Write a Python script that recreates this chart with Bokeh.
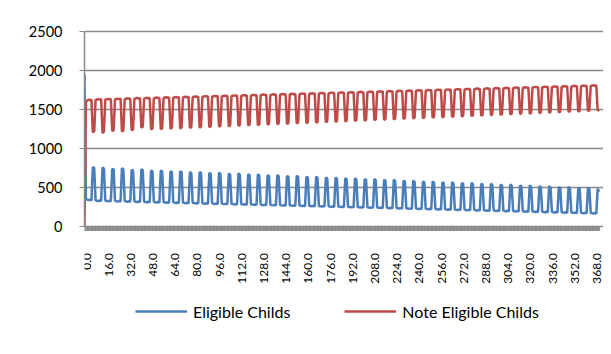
import math
from bokeh.plotting import figure
from bokeh.models import Range1d, FixedTicker
from bokeh.core.properties import value
from bokeh.embed import file_html
from bokeh.resources import INLINE

# Day index (categories 0.0 ... 371.0)
days = list(range(372))
x_tick_values = [0, 16, 32, 48, 64, 80, 96, 112, 128, 144, 160, 176, 192, 208, 224,
                 240, 256, 272, 288, 304, 320, 336, 352, 368]
x_tick_labels = ["0.0", "16.0", "32.0", "48.0", "64.0", "80.0", "96.0", "112.0", "128.0",
                 "144.0", "160.0", "176.0", "192.0", "208.0", "224.0", "240.0", "256.0",
                 "272.0", "288.0", "304.0", "320.0", "336.0", "352.0", "368.0"]
y_ticks = [0, 500, 1000, 1500, 2000, 2500]

eligible_childs = [1950,
    345, 338, 333, 336, 330, 758, 748,
    330, 325, 322, 327, 321, 752, 740,
    327, 322, 318, 324, 319, 735, 728,
    324, 319, 316, 321, 315, 744, 730,
    321, 316, 313, 318, 312, 722, 714,
    317, 312, 309, 314, 308, 730, 718,
    314, 309, 305, 311, 305, 712, 702,
    311, 306, 302, 308, 301, 715, 700,
    308, 303, 299, 305, 298, 702, 694,
    305, 300, 296, 302, 295, 705, 690,
    302, 297, 293, 299, 292, 692, 684,
    299, 294, 290, 296, 289, 694, 680,
    295, 290, 287, 292, 285, 682, 672,
    292, 287, 284, 289, 282, 686, 670,
    289, 284, 281, 286, 279, 672, 664,
    286, 281, 278, 283, 276, 676, 660,
    283, 278, 275, 280, 273, 662, 654,
    280, 275, 272, 277, 270, 664, 650,
    276, 271, 268, 274, 266, 652, 644,
    273, 268, 265, 271, 263, 655, 640,
    270, 265, 262, 268, 260, 642, 634,
    267, 262, 259, 265, 257, 646, 630,
    264, 259, 256, 262, 254, 631, 624,
    261, 256, 253, 259, 251, 634, 618,
    258, 253, 250, 256, 248, 621, 614,
    254, 249, 246, 252, 244, 624, 608,
    251, 246, 243, 249, 241, 611, 604,
    248, 243, 240, 246, 238, 614, 598,
    245, 240, 237, 243, 235, 601, 594,
    242, 237, 234, 240, 232, 604, 588,
    239, 234, 231, 237, 229, 591, 584,
    236, 231, 228, 234, 226, 594, 578,
    232, 227, 224, 230, 222, 581, 574,
    229, 224, 221, 227, 219, 584, 568,
    226, 221, 218, 224, 216, 571, 564,
    223, 218, 215, 221, 213, 574, 558,
    220, 215, 212, 218, 210, 561, 554,
    217, 212, 209, 215, 207, 564, 548,
    213, 208, 205, 211, 203, 551, 544,
    210, 205, 202, 208, 200, 554, 538,
    207, 202, 199, 205, 197, 540, 533,
    204, 199, 196, 202, 194, 543, 527,
    201, 196, 193, 199, 191, 530, 523,
    198, 193, 190, 196, 188, 533, 517,
    195, 190, 187, 193, 185, 520, 513,
    191, 186, 183, 189, 181, 523, 507,
    188, 183, 180, 186, 178, 510, 503,
    185, 180, 177, 183, 175, 513, 497,
    182, 177, 174, 180, 172, 500, 493,
    179, 174, 171, 177, 169, 503, 487,
    176, 171, 168, 174, 166, 490, 483,
    173, 168, 165, 171, 163, 493, 477,
    169, 164, 161, 167, 159, 480, 440]

note_eligible_childs = [0,
    1590, 1615, 1622, 1618, 1625, 1205, 1215,
    1620, 1626, 1630, 1624, 1628, 1196, 1210,
    1624, 1630, 1634, 1628, 1632, 1222, 1230,
    1627, 1633, 1637, 1631, 1635, 1215, 1228,
    1631, 1637, 1641, 1635, 1639, 1230, 1240,
    1635, 1641, 1645, 1639, 1643, 1262, 1275,
    1638, 1644, 1648, 1642, 1646, 1240, 1250,
    1641, 1647, 1651, 1645, 1649, 1245, 1255,
    1645, 1651, 1655, 1649, 1653, 1250, 1262,
    1648, 1654, 1658, 1652, 1656, 1255, 1266,
    1652, 1658, 1662, 1656, 1660, 1260, 1270,
    1655, 1661, 1665, 1659, 1663, 1265, 1276,
    1659, 1665, 1669, 1663, 1667, 1271, 1280,
    1662, 1668, 1672, 1666, 1670, 1276, 1286,
    1666, 1672, 1676, 1670, 1674, 1281, 1292,
    1669, 1675, 1679, 1673, 1677, 1287, 1297,
    1673, 1679, 1683, 1677, 1681, 1292, 1302,
    1676, 1682, 1686, 1680, 1684, 1297, 1307,
    1680, 1686, 1690, 1684, 1688, 1302, 1312,
    1683, 1689, 1693, 1687, 1691, 1308, 1318,
    1687, 1693, 1697, 1691, 1695, 1313, 1323,
    1690, 1696, 1700, 1694, 1698, 1318, 1328,
    1694, 1700, 1704, 1698, 1702, 1323, 1333,
    1697, 1703, 1707, 1701, 1705, 1329, 1339,
    1701, 1707, 1711, 1705, 1709, 1334, 1344,
    1704, 1710, 1714, 1708, 1712, 1339, 1349,
    1708, 1714, 1718, 1712, 1716, 1344, 1354,
    1711, 1717, 1721, 1715, 1719, 1350, 1360,
    1715, 1721, 1725, 1719, 1723, 1355, 1365,
    1718, 1724, 1728, 1722, 1726, 1360, 1370,
    1722, 1728, 1732, 1726, 1730, 1365, 1375,
    1725, 1731, 1735, 1729, 1733, 1371, 1381,
    1729, 1735, 1739, 1733, 1737, 1376, 1386,
    1732, 1738, 1742, 1736, 1740, 1381, 1391,
    1736, 1742, 1746, 1740, 1744, 1386, 1396,
    1739, 1745, 1749, 1743, 1747, 1392, 1402,
    1743, 1749, 1753, 1747, 1751, 1397, 1407,
    1746, 1752, 1756, 1750, 1754, 1402, 1412,
    1750, 1756, 1760, 1754, 1758, 1407, 1417,
    1753, 1759, 1763, 1757, 1761, 1413, 1423,
    1757, 1763, 1767, 1761, 1765, 1418, 1428,
    1760, 1766, 1770, 1764, 1768, 1423, 1433,
    1764, 1770, 1774, 1768, 1772, 1428, 1438,
    1767, 1773, 1777, 1771, 1775, 1434, 1444,
    1771, 1777, 1781, 1775, 1779, 1439, 1449,
    1774, 1780, 1784, 1778, 1782, 1444, 1454,
    1778, 1784, 1788, 1782, 1786, 1449, 1459,
    1781, 1787, 1791, 1785, 1789, 1455, 1465,
    1785, 1791, 1795, 1789, 1793, 1460, 1470,
    1788, 1794, 1798, 1792, 1796, 1465, 1475,
    1792, 1798, 1802, 1796, 1800, 1470, 1480,
    1795, 1801, 1805, 1799, 1803, 1476, 1486,
    1799, 1805, 1809, 1803, 1807, 1481, 1500]

FONT = "Lato"
GRAY = "#898989"

# Frame reaches below the zero line (so the rotated category labels and the
# legend drawn inside it are not clipped) and a little past the last category.
UNITS_PER_PX = 2500 / 194.5
y_top = 2500 + 2 * UNITS_PER_PX
y_bottom = -102.5 * UNITS_PER_PX
x_end = 519 / 1.387

p = figure(width=603, height=338, x_range=Range1d(0, x_end), y_range=Range1d(y_bottom, y_top),
           output_backend="svg", toolbar_location=None, x_axis_location=None,
           min_border_left=84, min_border_right=0, min_border_top=29, min_border_bottom=10)
p.outline_line_color = None
p.background_fill_color = "white"
p.border_fill_color = "white"

# category axis: dense tick marks and rotated labels
p.ray(x=days, y=0, length=5, length_units="screen", angle=-math.pi / 2,
      line_color=GRAY, line_width=1.6)
p.text(x=x_tick_values, y=0, text=x_tick_labels, angle=math.pi / 2, x_offset=2, y_offset=27,
       text_align="right", text_baseline="middle", text_font=value(FONT),
       text_font_size="12px", text_color="black")

p.line(days, eligible_childs, line_color="#4a7ebb", line_width=2.5, legend_label="Eligible Childs")
p.line(days, note_eligible_childs, line_color="#be4b48", line_width=2.5, legend_label="Note Eligible Childs")

p.yaxis.ticker = FixedTicker(ticks=y_ticks, minor_ticks=[])
p.yaxis.bounds = (0, 2500)
p.yaxis.major_label_text_font = FONT
p.yaxis.major_label_text_font_size = "14.5px"
p.yaxis.major_label_text_color = "black"
p.yaxis.major_label_standoff = 17
p.yaxis.major_tick_out = 5
p.yaxis.major_tick_in = 0
p.yaxis.major_tick_line_color = GRAY
p.yaxis.axis_line_color = GRAY
p.yaxis.axis_line_width = 1.5

p.xgrid.visible = False
p.ygrid.ticker = FixedTicker(ticks=y_ticks)
p.ygrid.grid_line_color = GRAY
p.ygrid.grid_line_width = 1.5

lg = p.legend[0]
lg.orientation = "horizontal"
lg.location = (51, 7)
lg.glyph_width = 52
lg.glyph_height = 20
lg.label_height = 20
lg.label_standoff = 6
lg.spacing = 54
lg.padding = 0
lg.margin = 0
lg.border_line_alpha = 0
lg.background_fill_alpha = 0
lg.label_text_font = FONT
lg.label_text_font_size = "16px"
lg.label_text_color = "black"

open("out.html", "w").write(file_html(p, INLINE))
